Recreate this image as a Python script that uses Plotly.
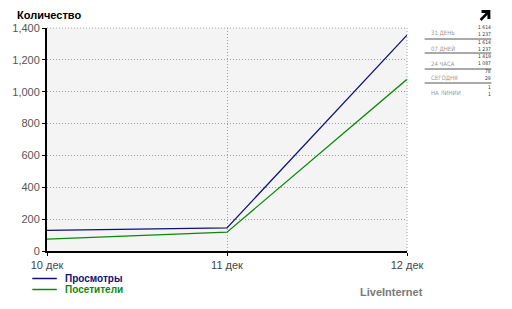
import plotly.graph_objects as go

dates = ["10 дек", "11 дек", "12 дек"]
views = [130, 145, 1355]
visitors = [75, 118, 1078]
series_names = ["Просмотры", "Посетители"]
series_colors = ["#10107a", "#0a8a0a"]

stat_labels = ["31 ДЕНЬ", "07 ДНЕЙ", "24 ЧАСА", "СЕГОДНЯ", "НА ЛИНИИ"]
stat_views = ["1 614", "1 614", "1 419", "78", "1"]
stat_visitors = ["1 237", "1 237", "1 087", "29", "1"]

W, H = 512, 309
L, R, T, B = 40, 105, 28, 58
pw, ph = W - L - R, H - T - B

def px(x):
    return (x - L) / pw

def py(y):
    return (H - B - y) / ph

fig = go.Figure()
for name, ys, col in zip(series_names, [views, visitors], series_colors):
    fig.add_trace(go.Scatter(x=dates, y=ys, mode="lines", name=name,
                             line=dict(color=col, width=1.3), showlegend=False))

font = "Liberation Sans, Arial, sans-serif"
dotdash = "1px,2px"
fig.update_layout(
    width=W, height=H, margin=dict(l=L, r=R, t=T, b=B),
    paper_bgcolor="white", plot_bgcolor="#f4f4f4",
    xaxis=dict(type="category", range=[0, 2], showgrid=True, gridcolor="#a0a0a0",
               griddash=dotdash, gridwidth=1, showline=True, linecolor="black", linewidth=2,
               ticks="outside", ticklen=3, tickcolor="black",
               tickfont=dict(family=font, size=11, color="#444"), zeroline=False),
    yaxis=dict(range=[0, 1400], dtick=200, tickformat=",d", showgrid=True,
               gridcolor="#a0a0a0", griddash=dotdash, gridwidth=1, showline=True,
               linecolor="black", linewidth=2, ticks="outside", ticklen=3,
               tickcolor="black", tickfont=dict(family=font, size=11, color="#555"),
               zeroline=False),
    showlegend=False,
)

fig.add_shape(type="line", xref="paper", yref="paper", x0=1, x1=1, y0=0, y1=1,
              line=dict(color="#a0a0a0", width=1, dash=dotdash))
fig.add_shape(type="line", xref="paper", yref="paper", x0=0, x1=1, y0=1, y1=1,
              line=dict(color="#a0a0a0", width=1, dash=dotdash))

anns = []
anns.append(dict(text="<b>Количество</b>", x=px(7), y=py(15), xref="paper", yref="paper",
                 xanchor="left", yanchor="middle", showarrow=False,
                 font=dict(family=font, size=11, color="black")))

for i, (name, col) in enumerate(zip(series_names, series_colors)):
    yy = 278.5 + i * 11
    fig.add_shape(type="line", xref="paper", yref="paper", x0=px(25), x1=px(50),
                  y0=py(yy), y1=py(yy), line=dict(color=col, width=1.5))
    anns.append(dict(text=f"<b>{name}</b>", x=px(57), y=py(yy), xref="paper", yref="paper",
                     xanchor="left", yanchor="middle", showarrow=False, borderpad=0,
                     font=dict(family=font, size=10, color=col)))

anns.append(dict(text="<b>LiveInternet</b>", x=px(391), y=py(292), xref="paper", yref="paper",
                 xanchor="center", yanchor="middle", showarrow=False,
                 font=dict(family=font, size=11, color="#7a7a7a")))

row_mid_y = [30, 45, 60, 74, 90]
sep_y = [39, 53, 69, 83]
small = "DejaVu Sans Condensed, DejaVu Sans, sans-serif"
for i, lab in enumerate(stat_labels):
    ym = row_mid_y[i]
    anns.append(dict(text=f"{stat_views[i]}<br>{stat_visitors[i]}", x=px(494), y=py(ym),
                     xref="paper", yref="paper", xanchor="right", yanchor="middle",
                     align="right", showarrow=False, borderpad=0,
                     font=dict(family=small, size=5, color="#333")))
    anns.append(dict(text=lab, x=px(430), y=py(ym + 3), xref="paper", yref="paper",
                     xanchor="left", yanchor="middle", showarrow=False, borderpad=0,
                     font=dict(family=small, size=6, color="#999")))
for ys in sep_y:
    fig.add_shape(type="line", xref="paper", yref="paper", x0=px(425), x1=px(493),
                  y0=py(ys), y1=py(ys), line=dict(color="#555", width=1))

fig.add_shape(type="line", xref="paper", yref="paper", x0=px(482), y0=py(20),
              x1=px(490), y1=py(12), line=dict(color="black", width=2.5))
fig.add_shape(type="path", xref="paper", yref="paper",
              path=f"M {px(483)} {py(10)} L {px(492)} {py(10)} L {px(492)} {py(19)} L {px(489)} {py(19)} L {px(489)} {py(13)} L {px(483)} {py(13)} Z",
              fillcolor="black", line=dict(color="black", width=0))

fig.update_layout(annotations=anns)
fig.write_html("out.html")
